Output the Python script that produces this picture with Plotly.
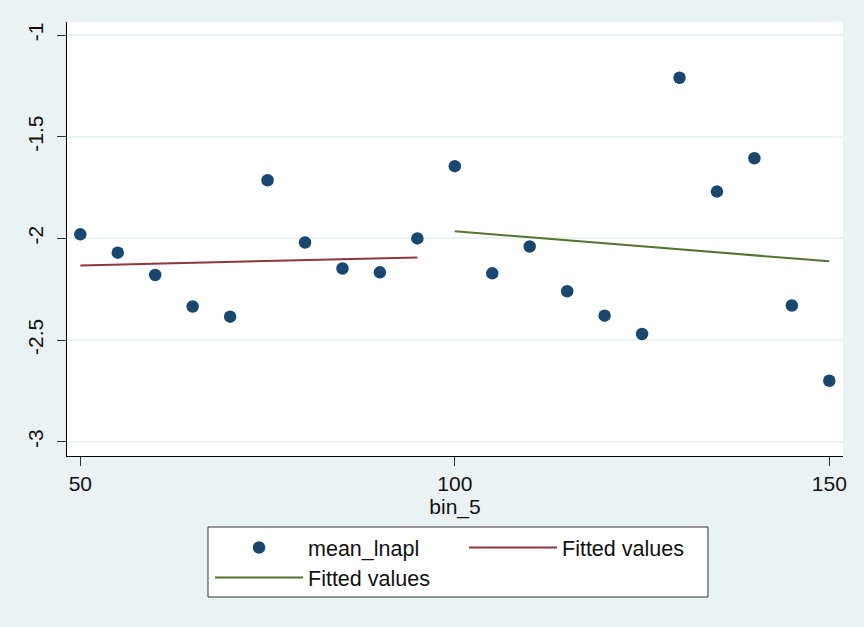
import plotly.graph_objects as go

bins = [50, 55, 60, 65, 70, 75, 80, 85, 90, 95, 100, 105, 110, 115, 120, 125, 130, 135, 140, 145, 150]
mean_lnapl = [-1.98, -2.07, -2.18, -2.335, -2.385, -1.714, -2.02, -2.148, -2.167, -2.0,
              -1.645, -2.172, -2.04, -2.26, -2.38, -2.47, -1.21, -1.77, -1.606, -2.33, -2.70]
fit1_x = [50, 95]
fit1_y = [-2.133, -2.094]
fit2_x = [100, 150]
fit2_y = [-1.965, -2.113]

x_ticks = [50, 100, 150]
y_ticks = [-1, -1.5, -2, -2.5, -3]
y_labels = ["-1", "-1.5", "-2", "-2.5", "-3"]

BG = "#EAF2F3"
FONT = "Liberation Sans, Arial, sans-serif"

fig = go.Figure()
fig.add_trace(go.Scatter(x=bins, y=mean_lnapl, mode="markers", name="mean_lnapl",
                         legend="legend",
                         marker=dict(color="#1A476F", size=12.5, line=dict(width=0))))
fig.add_trace(go.Scatter(x=fit1_x, y=fit1_y, mode="lines", name="Fitted values",
                         legend="legend",
                         line=dict(color="#90353B", width=2)))
fig.add_trace(go.Scatter(x=fit2_x, y=fit2_y, mode="lines", name="Fitted values",
                         legend="legend2",
                         line=dict(color="#55752F", width=2)))

legend_common = dict(orientation="h", xanchor="left", yanchor="top",
                     bgcolor="rgba(0,0,0,0)", borderwidth=0,
                     entrywidth=151, itemwidth=88, traceorder="normal",
                     font=dict(family=FONT, size=21.5, color="#111111"))

fig.update_layout(
    width=864, height=627,
    margin=dict(l=67, r=21, t=22, b=171),
    paper_bgcolor=BG, plot_bgcolor="white",
    font=dict(family=FONT, size=21, color="#111111"),
    showlegend=True,
    legend=dict(x=0.1843, y=-0.1636, **legend_common),
    legend2=dict(x=0.1843, y=-0.2327, **legend_common),
    shapes=[dict(type="rect", xref="paper", yref="paper",
                 x0=0.1817, x1=0.8260, y0=-0.1636, y1=-0.3249,
                 line=dict(color="#333333", width=1), fillcolor="white", layer="below")],
    xaxis=dict(range=[48.22, 151.83], tickvals=x_ticks, ticks="outside", ticklen=9,
               tickcolor="#333333", tickwidth=1, showgrid=False, zeroline=False,
               showline=True, linecolor="black", linewidth=1,
               tickfont=dict(size=21),
               title=dict(text="bin_5", standoff=4, font=dict(size=21))),
    yaxis=dict(range=[-3.07, -0.936], tickvals=y_ticks, ticktext=y_labels,
               tickangle=-90, ticks="outside", ticklen=9, tickcolor="#333333", tickwidth=1,
               tickfont=dict(size=21), ticklabelstandoff=6,
               showgrid=True, gridcolor=BG, gridwidth=2, zeroline=False,
               showline=True, linecolor="black", linewidth=1),
)

fig.write_html("out.html", config={"displayModeBar": False},
               post_script="document.body.style.margin='0px';")
